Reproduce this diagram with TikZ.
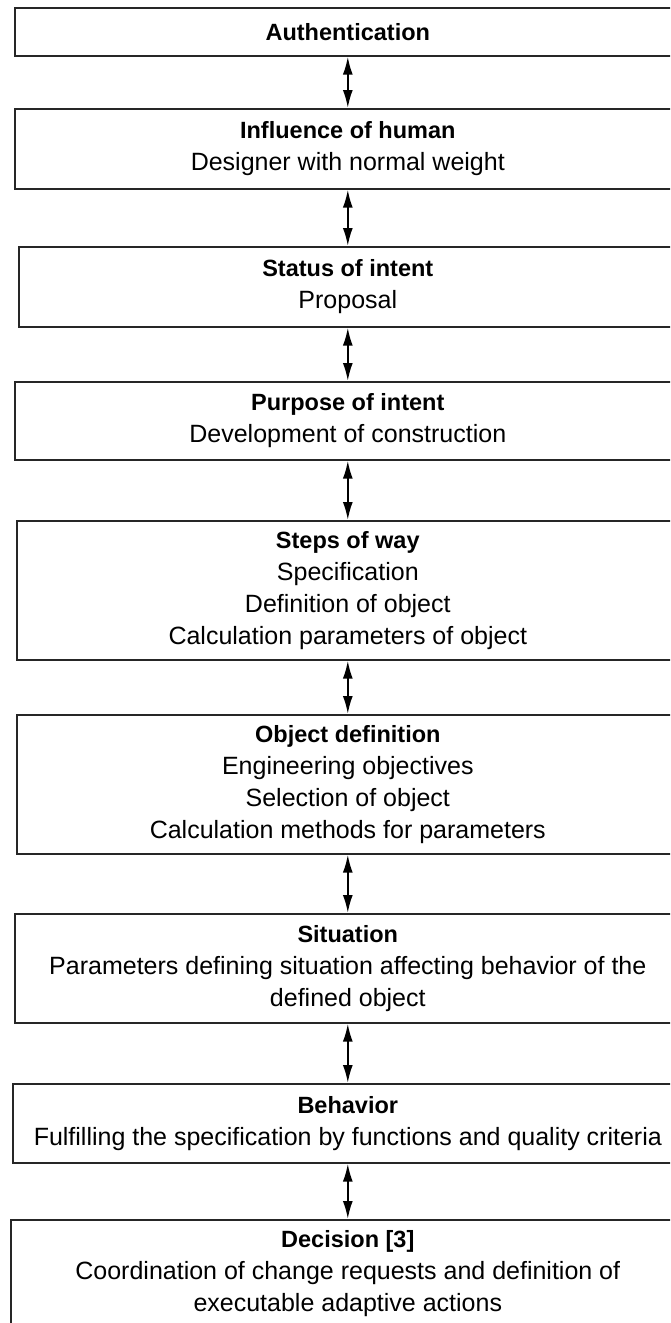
\documentclass[tikz,border=0pt]{standalone}
\usepackage{fontspec}
\setmainfont{Liberation Sans}
\usetikzlibrary{arrows.meta}
\newcommand{\stagetitle}[1]{{\fontsize{23.5}{32}\selectfont\bfseries #1}}
\begin{document}
\begin{tikzpicture}[x=1pt,y=-1pt,
  stage/.style={draw=black!85, line width=1.6pt, fill=white, align=center,
    inner sep=0pt, anchor=north west, font=\fontsize{25}{32}\selectfont},
  link/.style={line width=2pt, black,
    {Latex[length=18pt,width=10pt]}-{Latex[length=18pt,width=10pt]}}
]
\useasboundingbox (0,0) rectangle (670,1323);
\clip (0,0) rectangle (670,1323);

\node[stage, minimum width=666pt, minimum height=48pt] (auth) at (14,7)
  {\stagetitle{Authentication}};
\node[stage, minimum width=666pt, minimum height=80pt] (human) at (14,108)
  {\stagetitle{Influence of human}\\Designer with normal weight};
\node[stage, minimum width=658pt, minimum height=80pt] (status) at (18,246)
  {\stagetitle{Status of intent}\\Proposal};
\node[stage, minimum width=666pt, minimum height=78pt] (purpose) at (14,381)
  {\stagetitle{Purpose of intent}\\Development of construction};
\node[stage, minimum width=662pt, minimum height=139pt] (steps) at (16,520)
  {\stagetitle{Steps of way}\\Specification\\Definition of object\\Calculation parameters of object};
\node[stage, minimum width=662pt, minimum height=139pt] (object) at (16,714)
  {\stagetitle{Object definition}\\Engineering objectives\\Selection of object\\Calculation methods for parameters};
\node[stage, minimum width=666pt, minimum height=109pt] (situation) at (14,913)
  {\stagetitle{Situation}\\Parameters defining situation affecting behavior of the\\defined object};
\node[stage, minimum width=670pt, minimum height=79pt] (behavior) at (12,1083)
  {\stagetitle{Behavior}\\Fulfilling the specification by functions and quality criteria};
\node[stage, minimum width=674pt, minimum height=107pt] (decision) at (10,1219)
  {\stagetitle{Decision [3]}\\Coordination of change requests and definition of\\executable adaptive actions};

\draw[link] (auth.south) -- (human.north);
\draw[link] (human.south) -- (status.north);
\draw[link] (status.south) -- (purpose.north);
\draw[link] (purpose.south) -- (steps.north);
\draw[link] (steps.south) -- (object.north);
\draw[link] (object.south) -- (situation.north);
\draw[link] (situation.south) -- (behavior.north);
\draw[link] (behavior.south) -- (decision.north);
\end{tikzpicture}
\end{document}
